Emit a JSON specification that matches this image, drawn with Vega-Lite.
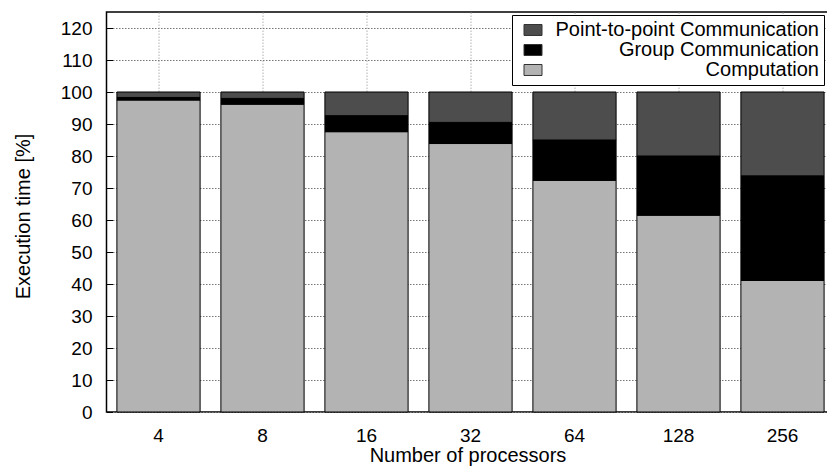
{
  "$schema": "https://vega.github.io/schema/vega-lite/v6.json",
  "autosize": {"type": "none"},
  "padding": {"left": 106.5, "top": 12, "right": 0, "bottom": 61},
  "width": 728,
  "height": 400,
  "config": {
    "font": "Liberation Sans",
    "view": {"stroke": "#000000", "strokeWidth": 1.5},
    "axis": {
      "domain": false,
      "tickColor": "#000000",
      "tickSize": -6,
      "tickWidth": 1,
      "labelColor": "#000000",
      "titleColor": "#000000",
      "labelFontSize": 19,
      "titleFontSize": 20,
      "titleFontWeight": "normal",
      "gridDash": [1.5, 1.5],
      "gridWidth": 1
    }
  },
  "data": {
    "values": [
      {"procs": 4, "part": "Computation", "pct": 97.5},
      {"procs": 4, "part": "Group Communication", "pct": 0.8},
      {"procs": 4, "part": "Point-to-point Communication", "pct": 1.7},
      {"procs": 8, "part": "Computation", "pct": 96.2},
      {"procs": 8, "part": "Group Communication", "pct": 1.8},
      {"procs": 8, "part": "Point-to-point Communication", "pct": 2.0},
      {"procs": 16, "part": "Computation", "pct": 87.6},
      {"procs": 16, "part": "Group Communication", "pct": 5.0},
      {"procs": 16, "part": "Point-to-point Communication", "pct": 7.4},
      {"procs": 32, "part": "Computation", "pct": 83.9},
      {"procs": 32, "part": "Group Communication", "pct": 6.6},
      {"procs": 32, "part": "Point-to-point Communication", "pct": 9.5},
      {"procs": 64, "part": "Computation", "pct": 72.4},
      {"procs": 64, "part": "Group Communication", "pct": 12.6},
      {"procs": 64, "part": "Point-to-point Communication", "pct": 15.0},
      {"procs": 128, "part": "Computation", "pct": 61.5},
      {"procs": 128, "part": "Group Communication", "pct": 18.5},
      {"procs": 128, "part": "Point-to-point Communication", "pct": 20.0},
      {"procs": 256, "part": "Computation", "pct": 41.1},
      {"procs": 256, "part": "Group Communication", "pct": 32.7},
      {"procs": 256, "part": "Point-to-point Communication", "pct": 26.2}
    ]
  },
  "mark": {"type": "bar", "stroke": "#000000", "strokeWidth": 1},
  "encoding": {
    "x": {
      "field": "procs",
      "type": "ordinal",
      "scale": {"paddingInner": 0.2, "paddingOuter": 0.1},
      "axis": {
        "title": "Number of processors",
        "labelAngle": 0,
        "labelBaseline": "alphabetic",
        "labelPadding": 35,
        "grid": true,
        "gridColor": "#b0b0b0",
        "titleBaseline": "alphabetic",
        "titleX": 361,
        "titleY": 49
      }
    },
    "y": {
      "field": "pct",
      "type": "quantitative",
      "stack": "zero",
      "scale": {"domain": [0, 125], "nice": false},
      "axis": {
        "title": "Execution time [%]",
        "values": [0, 10, 20, 30, 40, 50, 60, 70, 80, 90, 100, 110, 120],
        "labelPadding": 20.5,
        "grid": true,
        "gridColor": "#777777",
        "titleAngle": -90,
        "titleBaseline": "middle",
        "titleX": -83,
        "titleY": 204
      }
    },
    "order": {"field": "part", "type": "ordinal", "sort": "ascending"},
    "color": {
      "field": "part",
      "type": "nominal",
      "scale": {
        "domain": ["Computation", "Group Communication", "Point-to-point Communication"],
        "range": ["#b3b3b3", "#000000", "#4d4d4d"]
      },
      "legend": {
        "title": null,
        "orient": "none",
        "legendX": 405.5,
        "legendY": 3,
        "values": ["Point-to-point Communication", "Group Communication", "Computation"],
        "fillColor": "#ffffff",
        "strokeColor": "#000000",
        "padding": 5,
        "labelAlign": "right",
        "labelFontSize": 20,
        "labelColor": "#000000",
        "labelLimit": 400,
        "labelOffset": 276,
        "symbolType": "M-1,-0.61H1V0.61H-1Z",
        "symbolSize": 324,
        "symbolStrokeColor": "#333333",
        "symbolStrokeWidth": 1,
        "symbolOffset": 6,
        "rowPadding": 0
      }
    }
  }
}
